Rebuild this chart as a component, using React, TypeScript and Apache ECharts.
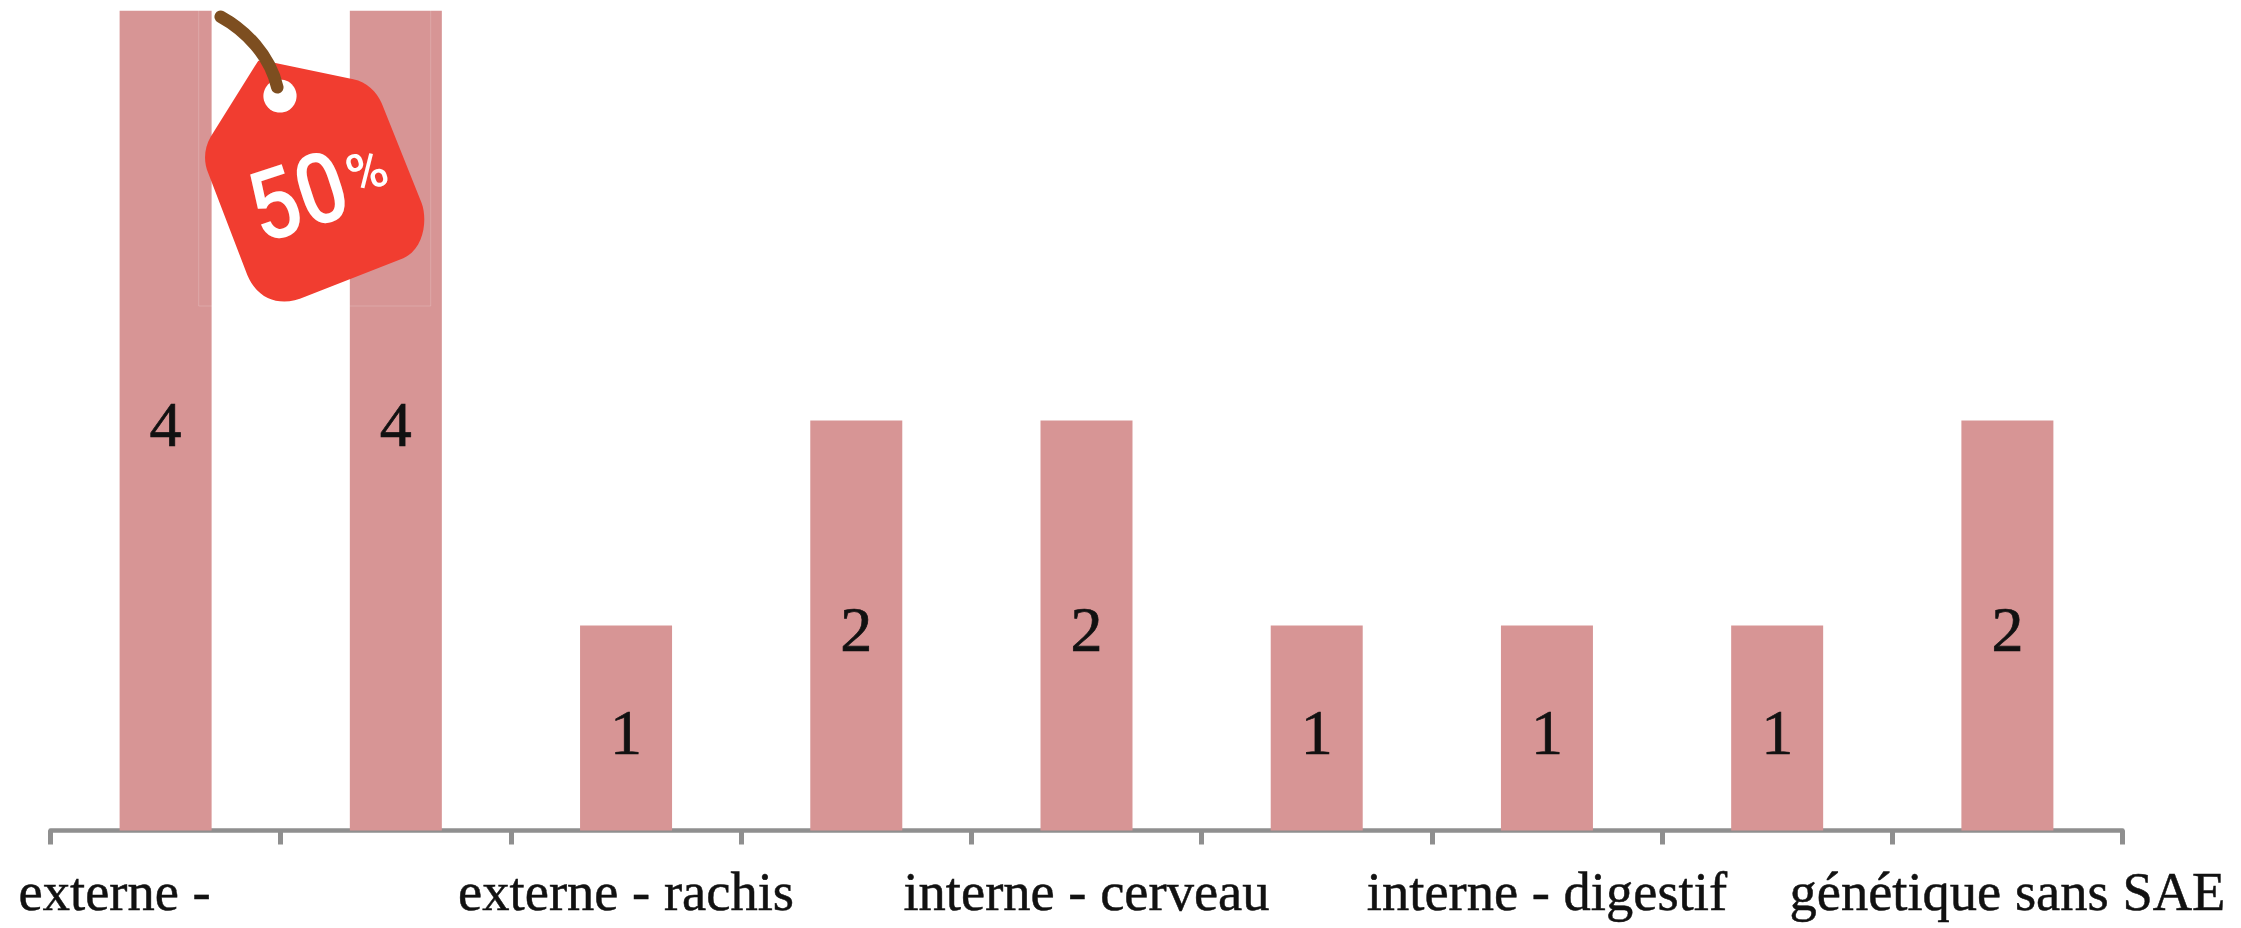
import React, { useEffect, useRef } from "react";
import * as echarts from "echarts";

const categories = ["externe -", "", "externe - rachis", "", "interne - cerveau", "", "interne - digestif", "", "génétique sans SAE"];
const values = [4, 4, 1, 2, 2, 1, 1, 1, 2];
const tagPercent = "50";
const tagSign = "%";

const SERIF = '"Liberation Serif", "Times New Roman", serif';
const TAG_D =
  "M258.3 60.7 L273 62.5 L353.3 79.3 C366.7 82 376.7 91.7 381.7 103.3 L421.7 203.3 C427.3 218.3 425 248.3 403.3 258.3 L305 296.7 C283.3 306.7 258.3 301.7 247.3 275 L208.3 173.3 C203.3 161.7 204 148.3 210.7 136.7 Z";

echarts.graphic.registerShape("priceTag", echarts.graphic.extendPath(TAG_D, {}));

const ROT = (18 * Math.PI) / 180;
const TEXT = "#111111";

export default function App() {
  const ref = useRef<HTMLDivElement>(null);
  useEffect(() => {
    const chart = echarts.init(ref.current!, undefined, { renderer: "svg" });
    chart.setOption({
      animation: false,
      backgroundColor: "#ffffff",
      grid: { left: 50.5, right: 118.5, top: 10.7, bottom: 97.5 },
      xAxis: {
        type: "category",
        data: categories,
        boundaryGap: true,
        axisLine: { show: true, lineStyle: { color: "#8f8f8f", width: 4.5 } },
        axisTick: { show: true, alignWithLabel: false, interval: 0, length: 14, lineStyle: { color: "#8f8f8f", width: 5 } },
        axisLabel: {
          interval: 0,
          hideOverlap: false,
          margin: 33,
          color: TEXT,
          fontFamily: SERIF,
          fontSize: 54.5,
          textBorderColor: TEXT,
          textBorderWidth: 0.5,
          formatter: (v: string) => (v === categories[0] ? `{shift|${v}}` : v),
          rich: {
            shift: {
              padding: [0, 102, 0, 0],
              color: TEXT,
              fontFamily: SERIF,
              fontSize: 54.5,
              textBorderColor: TEXT,
              textBorderWidth: 0.5,
            },
          },
        },
      },
      yAxis: { type: "value", min: 0, max: 4, show: false, splitLine: { show: false } },
      series: [
        {
          type: "bar",
          data: values,
          barWidth: 92,
          itemStyle: { color: "#d79595" },
          label: {
            show: true,
            position: "inside",
            offset: [0, 4],
            color: TEXT,
            fontFamily: SERIF,
            fontSize: 64,
            textBorderColor: TEXT,
            textBorderWidth: 0.7,
          },
        },
      ],
      graphic: {
        elements: [
          {
            type: "rect",
            z: 10,
            shape: { x: 198.7, y: 6, width: 232, height: 300 },
            style: { fill: "none", stroke: "rgba(255,255,255,0.18)", lineWidth: 1 },
          },
          { type: "priceTag", z: 11, style: { fill: "#f13d30" } },
          { type: "circle", z: 12, shape: { cx: 280, cy: 96, r: 16.6 }, style: { fill: "#ffffff" } },
          {
            type: "bezierCurve",
            z: 13,
            shape: { x1: 220.7, y1: 16.7, cpx1: 245, cpy1: 30, cpx2: 270, cpy2: 55, x2: 277.3, y2: 87.3 },
            style: { stroke: "#7d4e20", lineWidth: 12.5, lineCap: "round", fill: "none" },
          },
          {
            type: "text",
            z: 14,
            x: 298,
            y: 197,
            rotation: ROT,
            scaleX: 0.88,
            style: {
              text: tagPercent,
              fill: "#ffffff",
              font: '500 98px Roboto, "Noto Sans", sans-serif',
              align: "center",
              verticalAlign: "middle",
            },
          },
          {
            type: "text",
            z: 14,
            x: 367,
            y: 171,
            rotation: ROT,
            style: {
              text: tagSign,
              fill: "#ffffff",
              font: '500 54px Roboto, "Noto Sans", sans-serif',
              align: "center",
              verticalAlign: "middle",
            },
          },
        ],
      },
    });
    return () => chart.dispose();
  }, []);
  return <div ref={ref} style={{ position: "fixed", left: 0, top: 0, width: 2241, height: 928 }} />;
}
